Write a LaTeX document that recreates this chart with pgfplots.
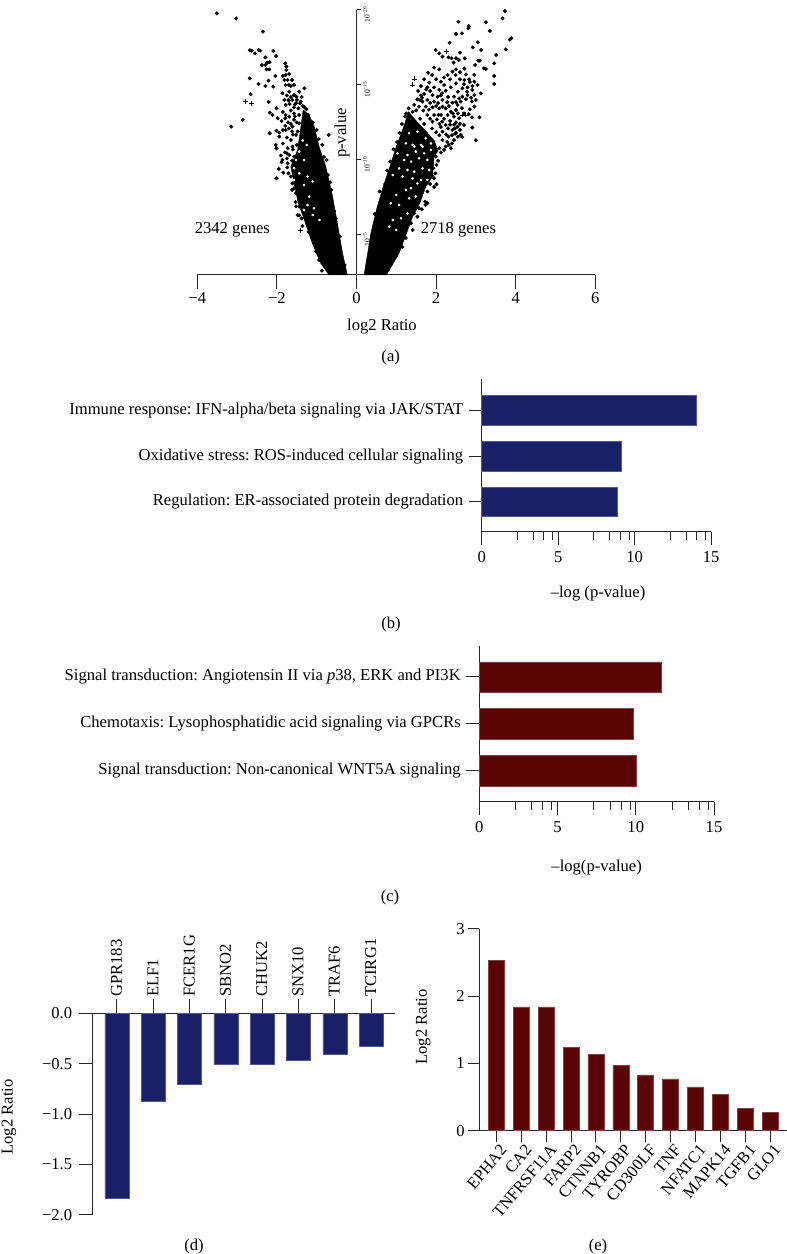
\documentclass[border=0pt]{standalone}
\usepackage{fontspec}
\setmainfont{Liberation Serif}
\usepackage{pgfplots}
\pgfplotsset{compat=1.18}
\frenchspacing
\definecolor{navybar}{HTML}{1A2068}
\definecolor{marbar}{HTML}{5A0406}
\newcommand{\lab}{\fontsize{16.6}{18}\selectfont}
\pgfplotsset{
  common/.style={
    scale only axis,
    tick style={line width=1pt,black!85},
    tick label style={font=\lab},
    label style={font=\lab},
    clip=false,
  },
  noarrows/.style={axis line style={-,line width=1pt,black!85}},
  hbar/.style={common,
    axis x line=bottom, axis y line=left, noarrows,
    xmin=0,xmax=15,xtick={0,5,10,15},xticklabels={0,5,10,15},
    minor xtick={2.32,3.36,4.07,4.64,7.32,8.36,9.07,9.64,12.32,13.36,14.07,14.64},
    tick align=outside, major tick length=13pt, minor tick length=8pt,
    ytick={1,2,3},
    x tick label style={yshift=-3pt},
    y tick label style={xshift=-2pt},
  },
}
\begin{document}
\begin{tikzpicture}
\path[use as bounding box] (0pt,0pt) rectangle (787pt,1254pt);

% ---------- (a) volcano
\begin{axis}[common,
  at={(197.3pt,979pt)}, width=398pt, height=265pt,
  xmin=-4,xmax=6,ymin=2.33,ymax=20,
  axis x line=bottom, axis y line=none, noarrows,
  tick align=outside, major tick length=14pt,
  xtick={-4,-2,0,2,4,6}, xticklabels={−4,−2,0,2,4,6},
  xlabel={log2 Ratio},
  x label style={at={(axis description cs:0.464,-0.196)},anchor=center},
]
% dense part of the cloud, taken as an area
\addplot[fill=black,draw=black] coordinates {
(-0.23,2.33)(-0.35,3.78)(-0.48,5.78)(-0.6,7.56)(-0.77,9.56)(-0.94,10.89)(-1.06,12.22)(-1.19,13)(-1.34,13.33)(-1.42,11.78)(-1.48,10.67)(-1.65,9.56)(-1.57,8.44)(-1.46,7.11)(-1.31,6)(-1.11,4.44)(-0.9,3.11)(-0.69,2.33)} --cycle;
\addplot[fill=black,draw=black] coordinates {
(0.19,2.33)(0.28,3.78)(0.36,5.11)(0.5,6.67)(0.67,8.22)(0.84,9.56)(1,10.89)(1.17,12.11)(1.31,13.22)(1.5,12.6)(1.75,11.9)(1.95,11.3)(2.05,10.6)(1.95,10.22)(1.91,8.89)(1.74,8.22)(1.59,7.11)(1.41,6.22)(1.32,5.56)(1.07,3.78)(0.75,2.33)} --cycle;
\addplot[only marks,mark=*,mark size=1.75pt,black] coordinates {
(-3.51,19.78)(-3.02,19.44)(-2.35,18.56)(-2.68,17.31)(-2.63,17.29)(-2.46,17.33)(-2.42,17.29)(-2.55,17.11)(-2.09,17.27)(-2.02,16.93)(-2.29,16.84)(-2.18,16.53)(-2.24,16.49)(-2.38,16.33)(-2.29,16.33)(-2.26,16.04)(-2.19,16.04)(-1.79,16.44)(-1.76,16.22)(-1.76,16)(-1.78,15.67)(-1.69,15.73)(-2.68,15.44)(-2.21,15.29)(-2.46,15.07)(-2.04,15.6)(-2.29,14.93)(-2.09,14.89)(-1.81,15.33)(-1.73,15.33)(-1.62,15.33)(-1.78,15)(-1.65,14.93)(-1.57,15)(-2.66,14.38)(-1.31,14.78)(-1.44,14.56)(-1.69,14.56)(-1.86,14.44)(-1.57,14.33)(-1.51,14.22)(-2.21,13.87)(-1.81,14)(-1.71,14)(-1.61,14)(-1.52,13.78)(-1.42,13.78)(-1.78,13.67)(-1.68,13.73)(-1.57,13.51)(-1.46,13.44)(-1.31,13.51)(-1.26,13.38)(-2.01,13.44)(-2.18,13.16)(-2.11,13)(-1.78,13)(-1.69,12.89)(-1.79,12.78)(-1.98,12.78)(-1.57,13.11)(-1.44,13)(-1.31,13.11)(-1.21,13)(-2.86,12.67)(-3.15,12.22)
(-1.79,12.27)(-2.01,11.96)(-2.18,11.78)(-1.94,11.82)(-1.78,12)(-1.61,12.22)(-1.44,12.44)(-1.57,12.67)(-0.7,11.67)(-1.65,11.33)(-1.52,11.67)(-1.94,11.56)(-2.03,11)(-2.01,10.78)(-1.73,10.78)(-1.61,10.89)(-1.86,10)(-1.69,10.33)(-1.57,10.22)(-1.73,9.78)(-1.84,9.16)(-1.71,9.11)(-2.01,8.78)(-1.61,8.44)(-1.57,8.11)(-1.52,7.78)(-1.44,7.33)(-1.44,6.89)(-1.48,6.33)(-1.29,6.44)(-1.23,6)(-1.15,5.33)(-1.06,4.67)(-0.98,4)(-0.87,2.62)(-0.94,3.33)(-1.5,11)(-1.35,12.2)(-1.25,12.6)(-1.5,9.3)(-0.86,11)(-0.75,10)(-0.66,8.5)(-0.56,6.6)(-0.44,4.6)(-1,12)(-1.74,9.5)(-1.65,8.9)(-1.62,8)(-1.53,7.2)(-1.44,6.3)(-1.36,5.6)
(-1.55,12.9)(-1.65,12.4)(-1.7,12.1)(-1.85,12)(-1.6,11.7)(-1.75,11.5)(-1.85,11.1)(-1.8,10.5)(-1.9,10.3)(-1.75,10.1)(-1.6,10.7)(-1.35,13.6)(-1.4,13.9)(-1.5,14)(-1.65,13.3)(-1.85,13.2)(-1.7,13.95)(-1.75,14.3)(-1.65,14.2)(-1.55,13.7)(-1.38,14.2)(-1.7,15)(-1.85,15.6)(-1.72,12.5)(-1.88,12.6)(-1.5,12.5)(-1.62,11.9)(-1.48,11.9)(-1.75,10.45)(-1.88,9.85)(-1.95,9.4)(-1.62,9.95)
(-0.3,3)(-0.42,4.9)(-0.52,6.1)(-0.63,8)(-0.72,9)(-0.82,10.2)(-0.95,11.4)(-1.1,12.5)(-1.02,3.9)(-1.2,5.2)(-1.38,6.1)(-1.52,6.9)
(3.73,19.93)(3.67,19.44)(2.56,19.22)(3.25,19.18)(2.82,18.93)(2.81,18.78)(3.35,18.6)(2.5,18.4)(2.65,18.44)(3.89,18.11)(3.85,18.02)(2.34,17.82)(3.05,17.84)(2.92,17.51)(3.75,17.38)(3.13,17.33)(1.99,17.33)(2.08,17.11)(2.16,16.89)(2.6,17.16)(3.51,17)(2.31,16.84)(2.39,16.78)(2.5,16.78)(2.72,16.78)(2.44,16.49)(2.57,16.67)(3.06,16.62)(3.1,16.62)(2.98,16.33)(3.46,16.44)(2.5,16.04)(2.71,16.09)(1.95,16.16)(2.08,16.04)(3.25,16.07)(3.2,16.11)(2.96,15.67)(2.41,15.89)(2.49,15.67)(1.8,15.82)(1.9,15.67)(3.46,15.6)(3.46,15.07)(2.29,15.67)(2.35,15.38)(1.7,15.38)(1.83,15.16)(2,15.38)(2.12,15.22)(2.6,15.38)(2.71,15.33)(2.83,15.38)(2.96,15.22)(2.91,14.93)(3.04,15)(1.62,14.93)(1.78,14.84)(1.95,14.84)(2.08,14.67)(2.37,14.84)(2.24,14.62)(2.66,14.78)(2.79,14.84)(2.91,14.67)(3.12,14.44)(1.91,14.33)(2.04,14.22)(1.7,14.4)(1.53,14.04)(1.66,13.89)(1.78,14)(1.95,13.89)(2.16,14)(2.45,14.22)(2.66,14.22)(2.79,14.33)(2.96,14.33)(2.62,13.89)(2.54,13.67)(2.41,13.82)(1.45,13.67)(1.57,13.56)(1.74,13.56)(1.91,13.51)(1.31,13.44)(1.41,13.22)(2.08,13.44)(2.24,13.44)(2.37,13.22)(2.5,13.33)(2.96,13.56)(2.85,13.38)(2.9,12.84)(3.09,12.84)(1.78,13)(1.95,13)(2.12,13)(2.29,13)(2.45,12.89)(2.58,12.78)(2.7,12.33)(2.91,12.16)(3,11.31)(2.62,11.67)(2.66,11.51)(2.54,12.22)(2.41,12)(2.24,12.33)(2.08,12.4)(1.91,12.56)(2.16,11.89)(2.31,11.56)(2.45,11.33)(2.16,11.33)(2.24,10.89)(2.37,10.78)(2.2,10.67)(2.08,10.78)(1.99,10.22)(2.01,9.67)(1.98,9.11)(1.95,8.78)(2.01,8.38)(1.78,7.9)(1.73,7.22)(1.78,7.11)(1.73,7)(1.64,6.71)(1.57,6.78)(1.45,6.44)(1.53,6.22)(1.37,5.78)(1.41,5.33)
(2.06,13.0)(1.85,12.75)(2.02,12.7)(2.2,12.75)(2.35,12.6)(2.5,12.5)(2.12,12.2)(2.3,12.1)(2.47,12.1)(2.08,11.65)(2.25,11.7)(2.4,11.65)(2.28,11.2)(2.12,10.5)(2.05,9.95)(1.93,9.45)(1.9,8.95)(1.85,8.4)(1.95,8.2)(1.78,8.6)(1.7,12.4)(1.9,12.1)(2.0,11.85)(1.6,12.75)
(0.46,6.4)(0.58,7.9)(0.77,9.3)(0.93,10.7)(1.08,11.8)(1.22,12.9)(1.24,4.8)(1.15,4.2)(1.0,3.6)(0.86,3)
(1.55,14.6)(1.62,14.3)(1.85,14.6)(2.15,14.45)(2.3,14.2)(2.55,14.55)(2.75,14.05)(2.9,13.9)(1.5,13.3)(1.68,13.3)(1.82,13.35)(2.0,13.6)(2.16,13.55)(2.32,13.6)(2.65,13.45)(2.7,13.1)(2.55,13.1)(2.42,13.1)(1.6,14.0)(1.85,13.8)(2.05,13.8)(2.28,13.85)(2.5,13.85)(2.2,15.0)(2.5,15.1)(2.7,15.05)(2.78,14.55)(2.2,15.5)(2.6,15.85)(2.75,15.7)(2.85,15.2)(1.75,14.7)(2.6,12.4)(2.45,12.35)(2.35,12.35)(2.6,12)(2.5,11.8)(2.15,12.55)(2.4,11.1)(2.32,11)(2.55,11.55)(2.48,11.75)(1.65,14.15)(2.12,14.3)(2.58,14.1)(2.88,14.15)(3.0,14)(2.82,13.05)
(1.2,5.2)(1.12,4.5)(1.0,4)(0.92,3.4)(0.8,2.7)(0.62,7.2)(0.72,8.4)(0.85,9.9)(1.02,11.2)(1.14,12.4)(1.25,13.1)
};
\addplot[only marks,mark=+,mark size=2.5pt,line width=0.7pt,black] coordinates {
(-2.8,13.93)(-2.63,13.78)(-1.4,5.33)(2.27,17.22)(1.45,15.4)(1.41,15)(2.66,13)(2.73,13)};
% gaps inside the dense part of the cloud
\addplot[only marks,mark=*,mark size=1.1pt,white] coordinates {
(1.41,11)(1.62,11)(1.28,10.33)(1.49,10.56)(1.7,10.44)(1.87,10.67)(1.2,10)(1.37,9.89)(1.57,10.11)(1.78,10)(1.07,9.44)(1.28,9.33)(1.45,9.22)(1.66,9.44)(1.83,9.33)(0.91,9)(1.16,8.89)(1.41,8.78)(1.62,8.67)(1.24,8)(1.37,8.11)(1,7.67)(1.49,7.56)(1.32,7.44)(0.86,7.11)(1.07,7)(1.28,6.44)(0.91,6)(1.12,6.11)(0.82,5.56)(1,5.33)(1.53,8.44)(1.78,8.67)(1.03,10.44)(1.32,11.78)(1.53,11.89)(1.74,11.45)(1.24,11.11)(1.45,10.9)(1.66,10.89)(1.87,11.1)
(-1.1,8.56)(-1.32,8.33)(-1.19,7.56)(-1.23,7)(-1.07,6.78)(-1.44,9.11)(-1.52,10)(-1.32,10)(-1.44,10.56)(-1.57,8.67)(-1.32,6.67)(-1.1,6.33)(-0.93,6)(-1.57,9.44)(-1.23,8.89)(-1.35,11.3)(-1.25,11)
};
\node[font=\lab] at (axis cs:-3.12,5.33) {2342 genes};
\node[font=\lab] at (axis cs:2.56,5.33) {2718 genes};
\node[font=\lab,rotate=90] at (axis cs:-0.36,11.8) {p-value};
\end{axis}
% y axis of (a), standing at x = 0
\begin{axis}[common,
  at={(197.3pt,979pt)}, width=398pt, height=265pt,
  xmin=-4,xmax=6,ymin=2.33,ymax=20,
  axis x line=none, axis y line=center, noarrows,
  axis line style={line width=1.3pt},
  xtick=\empty,
  major tick length=4pt,
  ytick={5,10,15,20},
  yticklabels={10\textsuperscript{−5},10\textsuperscript{−10},10\textsuperscript{−15},10\textsuperscript{−20}},
  y tick style={xshift=2pt},
  y tick label style={font=\fontsize{7.5}{8}\selectfont,rotate=90,anchor=center,xshift=-4.5pt,yshift=-12pt},
]
\end{axis}

% ---------- (b)
\begin{axis}[hbar,
  at={(481.7pt,722pt)}, width=229.5pt, height=153pt,
  ymin=0.344,ymax=3.69,
  yticklabels={Regulation: ER-associated protein degradation,Oxidative stress: ROS-induced cellular signaling,Immune response: IFN-alpha/beta signaling via JAK/STAT},
  xlabel={–log (p-value)},
  x label style={at={(axis description cs:0.507,-0.399)},anchor=center},
]
\addplot[xbar,bar width=29.6pt,bar shift=0pt,fill=navybar,draw=navybar!75!white,line width=0.6pt] coordinates {(8.87,1)(9.15,2)(14.05,3)};
\end{axis}

% ---------- (c)
\begin{axis}[hbar,
  at={(479.3pt,452.3pt)}, width=234.7pt, height=155.7pt,
  ymin=0.341,ymax=3.66,
  yticklabels={Signal transduction: Non-canonical WNT5A signaling,Chemotaxis: Lysophosphatidic acid signaling via GPCRs,Signal transduction: Angiotensin II via \textit{p}38{,} ERK and PI3K},
  xlabel={–log(p-value)},
  x label style={at={(axis description cs:0.5,-0.426)},anchor=center},
]
\addplot[xbar,bar width=30.3pt,bar shift=0pt,fill=marbar,draw=marbar!75!white,line width=0.6pt] coordinates {(10.02,1)(9.85,2)(11.65,3)};
\end{axis}

% ---------- (d)
\begin{axis}[common,
  at={(92.7pt,39pt)}, width=302.3pt, height=201.7pt,
  xmin=-0.669,xmax=7.658,ymin=-2,ymax=0,
  axis x line=top, axis y line=left, noarrows,
  tick align=outside, major tick length=14pt,
  xtick={0,...,7},
  xticklabels={GPR183,ELF1,FCER1G,SBNO2,CHUK2,SNX10,TRAF6,TCIRG1},
  x tick label style={rotate=90,anchor=west,yshift=0.5pt,xshift=-1pt},
  ytick={-2,-1.5,-1,-0.5,0},
  yticklabels={−2.0,−1.5,−1.0,−0.5,0.0},
  y tick label style={xshift=-3pt},
  ylabel={Log2 Ratio},
  y label style={at={(axis description cs:-0.277,0.486)},anchor=center},
]
\addplot[ybar,bar width=24pt,bar shift=0pt,fill=navybar,draw=navybar!75!white,line width=0.6pt] coordinates {(0,-1.83)(1,-0.868)(2,-0.70)(3,-0.503)(4,-0.503)(5,-0.47)(6,-0.41)(7,-0.328)};
\end{axis}

% ---------- (e)
\begin{axis}[common,
  at={(479.3pt,123.3pt)}, width=307.2pt, height=201.7pt,
  xmin=-0.683,xmax=11.65,ymin=0,ymax=3,
  axis x line=bottom, axis y line=left, noarrows,
  tick align=outside, major tick length=11pt,
  xtick={0,...,11},
  xticklabels={EPHA2,CA2,TNFRSF11A,FARP2,CTNNB1,TYROBP,CD300LF,TNF,NFATC1,MAPK14,TGFB1,GLO1},
  x tick label style={rotate=50,anchor=north east,xshift=4pt,yshift=0.3pt},
  ytick={0,1,2,3}, yticklabels={0,1,2,3},
  ylabel={Log2 Ratio},
  y label style={at={(axis description cs:-0.183,0.514)},anchor=center},
]
\addplot[ybar,bar width=16pt,bar shift=0pt,fill=marbar,draw=marbar!75!white,line width=0.6pt] coordinates {(0,2.53)(1,1.84)(2,1.84)(3,1.24)(4,1.135)(5,0.97)(6,0.83)(7,0.77)(8,0.65)(9,0.545)(10,0.33)(11,0.27)};
\end{axis}

% ---------- panel letters
\node[font=\lab] at (390.7pt,896pt) {(a)};
\node[font=\lab] at (391pt,629pt) {(b)};
\node[font=\lab] at (390pt,356pt) {(c)};
\node[font=\lab] at (194pt,7pt) {(d)};
\node[font=\lab] at (598pt,7pt) {(e)};
\end{tikzpicture}
\end{document}
